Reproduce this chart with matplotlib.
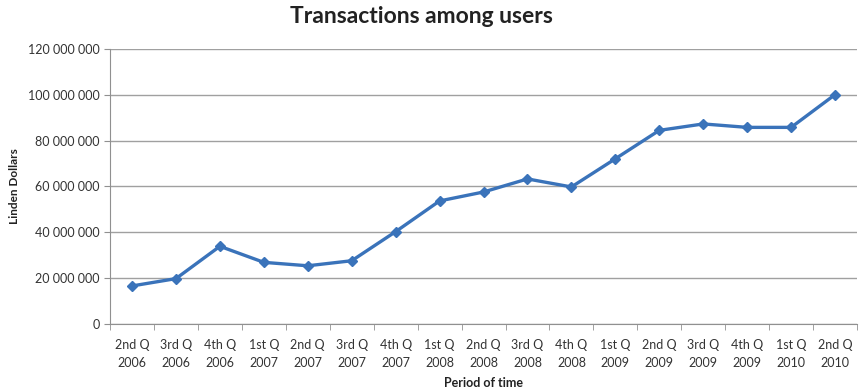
import matplotlib.pyplot as plt
from matplotlib.ticker import FuncFormatter, FixedLocator

quarters = ["2nd Q\n2006", "3rd Q\n2006", "4th Q\n2006", "1st Q\n2007", "2nd Q\n2007",
            "3rd Q\n2007", "4th Q\n2007", "1st Q\n2008", "2nd Q\n2008", "3rd Q\n2008",
            "4th Q\n2008", "1st Q\n2009", "2nd Q\n2009", "3rd Q\n2009", "4th Q\n2009",
            "1st Q\n2010", "2nd Q\n2010"]
transactions = [16.6e6, 19.8e6, 33.9e6, 26.9e6, 25.4e6, 27.6e6, 40.3e6, 53.7e6, 57.6e6,
                63.3e6, 59.8e6, 72.1e6, 84.5e6, 87.3e6, 85.8e6, 85.8e6, 100.1e6]

plt.rcParams['font.family'] = ['Lato', 'DejaVu Sans']

fig = plt.figure(figsize=(8.61, 3.92), dpi=100)
ax = fig.add_axes([0.1278, 0.1735, 0.8676, 0.7015])

x = range(len(quarters))
ax.plot(x, transactions, color="#3A73BA", linewidth=2.4, marker="D", markersize=5, zorder=3)

ax.set_xlim(-0.5, len(quarters) - 0.5)
ax.set_ylim(0, 120e6)
ax.set_yticks([i * 20e6 for i in range(7)])
ax.yaxis.set_major_formatter(FuncFormatter(lambda v, p: f"{int(v):,}".replace(",", " ")))
ax.grid(axis="y", color="#A0A0A0", linewidth=1)
ax.set_axisbelow(True)

ax.set_xticks(list(x))
ax.set_xticklabels(quarters, fontsize=9, color="#333333", linespacing=1.55)
ax.tick_params(axis="x", length=0, pad=11)
ax.xaxis.set_minor_locator(FixedLocator([i - 0.5 for i in range(len(quarters) + 1)]))
ax.tick_params(axis="x", which="minor", length=4, color="#909090", direction="out")
ax.tick_params(axis="y", length=4, color="#909090", labelsize=9, labelcolor="#333333")

for side in ["top", "right"]:
    ax.spines[side].set_visible(False)
for side in ["left", "bottom"]:
    ax.spines[side].set_color("#909090")

# title is centred on the whole chart, not on the plot area
fig.suptitle("Transactions among users", x=0.49, y=0.985, fontsize=16.5,
             fontweight="bold", color="#222222")
ax.set_ylabel("Linden Dollars", fontsize=8.5, fontweight="bold", color="#222222", labelpad=6)
ax.set_xlabel("Period of time", fontsize=9, fontweight="bold", color="#222222", labelpad=6)

fig.savefig("out.png", dpi=100)
